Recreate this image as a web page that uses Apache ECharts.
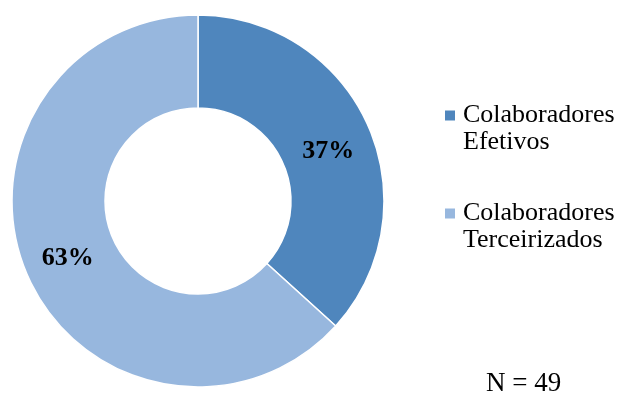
<!DOCTYPE html>
<html>
<head>
<meta charset="utf-8">
<script src="https://cdn.jsdelivr.net/npm/echarts@6/dist/echarts.min.js"></script>
<style>
  html, body { margin: 0; padding: 0; background: #fff; }
  #chart { width: 620px; height: 393px; }
</style>
</head>
<body>
<div id="chart"></div>
<script>
const categories = ['Colaboradores\nEfetivos', 'Colaboradores\nTerceirizados'];
const values = [18, 31];
const colors = ['#4F86BD', '#97B7DE'];
const totalLabel = 'N = 49';

const chart = echarts.init(document.getElementById('chart'));

chart.setOption({
  animation: false,
  textStyle: { fontFamily: 'Liberation Serif' },
  legend: {
    orient: 'vertical',
    left: 438,
    top: 70,
    itemWidth: 12,
    itemHeight: 12,
    itemGap: 17,
    icon: 'rect',
    data: categories,
    // blank first line keeps the first text line level with the square
    formatter: name => '\n' + name,
    textStyle: {
      fontFamily: 'Liberation Serif',
      fontSize: 26,
      lineHeight: 27,
      color: '#000',
      padding: [0, 0, 0, 2]
    }
  },
  graphic: [{
    type: 'text',
    left: 486,
    top: 370,
    style: {
      text: totalLabel,
      font: '27px "Liberation Serif"',
      fill: '#000'
    }
  }],
  series: [{
    type: 'pie',
    center: [198, 201],
    radius: [93, 186],
    startAngle: 90,
    clockwise: true,
    legendHoverLink: false,
    itemStyle: { borderColor: '#fff', borderWidth: 1.5 },
    label: {
      position: 'inside',
      formatter: p => Math.round(p.percent) + '%',
      fontFamily: 'Liberation Serif',
      fontWeight: 'bold',
      fontSize: 26,
      color: '#000'
    },
    labelLayout: p => (p.dataIndex === 0 ? { dy: 8 } : {}),
    labelLine: { show: false },
    data: categories.map((c, i) => ({
      name: c,
      value: values[i],
      itemStyle: { color: colors[i] }
    }))
  }]
});
</script>
</body>
</html>
